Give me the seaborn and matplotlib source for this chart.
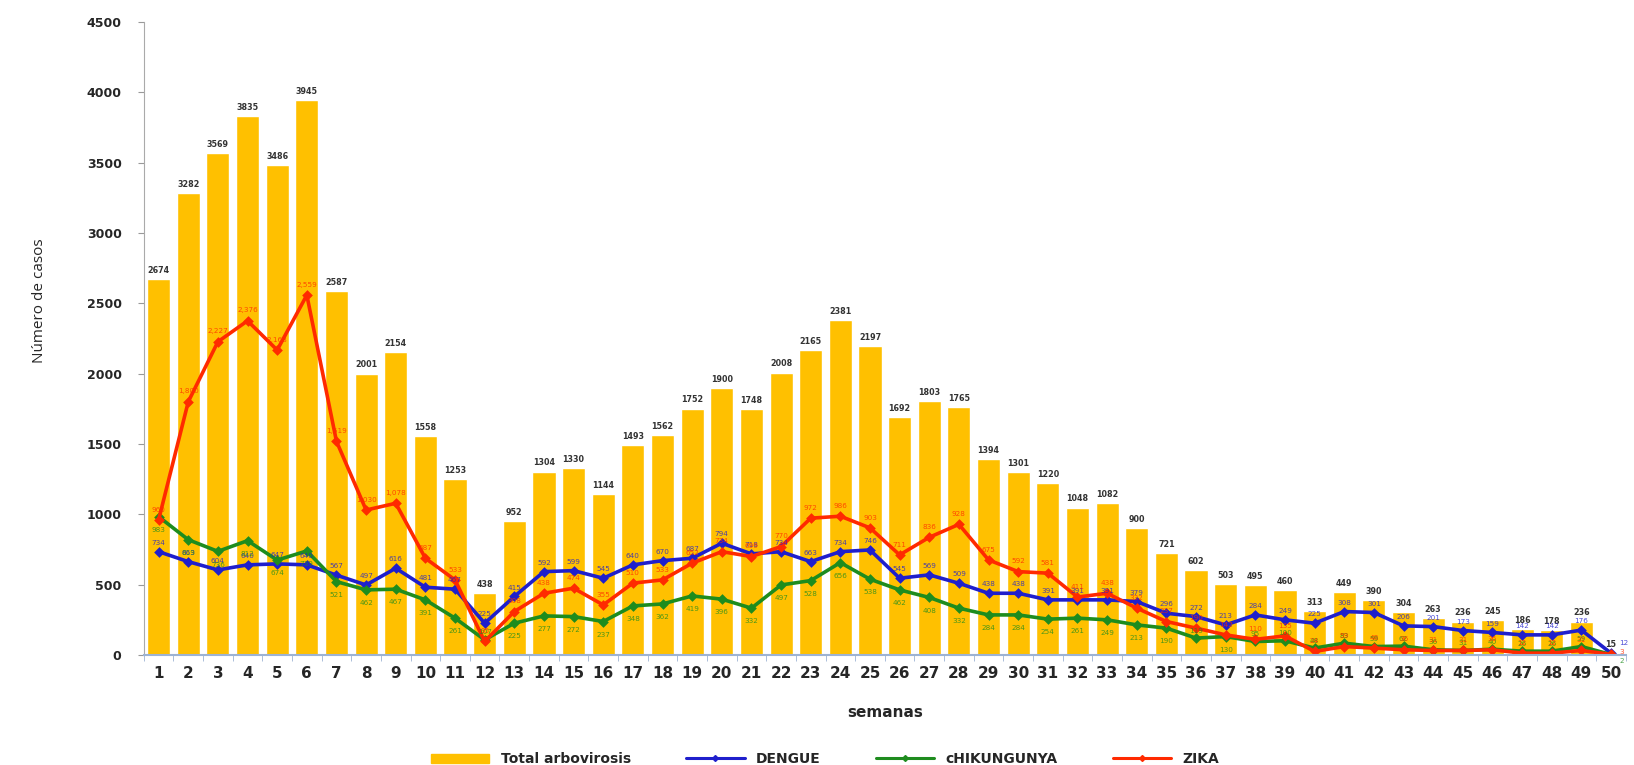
import numpy as np
import pandas as pd
import seaborn as sns
import matplotlib
matplotlib.use('Agg')
import matplotlib.pyplot as plt
from matplotlib.lines import Line2D
from matplotlib.patches import Patch

# Weekly cases
semanas = [str(i) for i in range(1, 51)]
total = [2674, 3282, 3569, 3835, 3486, 3945, 2587, 2001, 2154, 1558,
         1253, 438, 952, 1304, 1330, 1144, 1493, 1562, 1752, 1900,
         1748, 2008, 2165, 2381, 2197, 1692, 1803, 1765, 1394, 1301,
         1220, 1048, 1082, 900, 721, 602, 503, 495, 460, 313,
         449, 390, 304, 263, 236, 245, 186, 178, 236, 15]
dengue = [734, 663, 604, 640, 647, 640, 567, 497, 616, 481,
          467, 225, 415, 592, 599, 545, 640, 670, 687, 794,
          718, 734, 663, 734, 746, 545, 569, 509, 438, 438,
          391, 391, 391, 379, 296, 272, 213, 284, 249, 225,
          308, 301, 206, 201, 173, 159, 142, 142, 176, 12]
chikungunya = [983, 819, 736, 812, 674, 739, 521, 462, 467, 391,
               261, 107, 225, 277, 272, 237, 348, 362, 419, 396,
               332, 497, 528, 656, 538, 462, 408, 332, 284, 284,
               254, 261, 249, 213, 190, 119, 130, 95, 100, 48,
               83, 59, 62, 36, 31, 40, 26, 26, 59, 2]
zika = [960, 1800, 2227, 2376, 2168, 2559, 1519, 1030, 1078, 687,
        533, 95, 308, 438, 474, 355, 510, 533, 652, 734,
        699, 770, 972, 986, 903, 711, 836, 928, 675, 592,
        581, 411, 438, 332, 237, 190, 142, 110, 135, 24,
        59, 48, 36, 31, 31, 36, 12, 12, 31, 3]

bar_color = "#FFC000"
line_colors = {"DENGUE": "#1F1FCC", "cHIKUNGUNYA": "#1E8C1E", "ZIKA": "#FF2A00"}
label_offsets = {"DENGUE": 5, "cHIKUNGUNYA": -11, "ZIKA": 6}

df_total = pd.DataFrame({"semana": semanas, "casos": total})
df_lines = pd.concat([
    pd.DataFrame({"semana": semanas, "casos": dengue, "serie": "DENGUE"}),
    pd.DataFrame({"semana": semanas, "casos": chikungunya, "serie": "cHIKUNGUNYA"}),
    pd.DataFrame({"semana": semanas, "casos": zika, "serie": "ZIKA"}),
])

sns.set_style("white")
plt.rcParams['font.family'] = ['DejaVu Sans']

fig = plt.figure(figsize=(16.34, 7.65), dpi=100)
ax = fig.add_axes([0.088, 0.144, 0.907, 0.827])

sns.barplot(data=df_total, x="semana", y="casos", color=bar_color, errorbar=None,
            width=0.78, saturation=1, ax=ax, legend=False)
ax.bar_label(ax.containers[0], fontsize=5.8, fontweight="bold", color="#333333", padding=3)

n_before = len(ax.lines)
sns.pointplot(data=df_lines, x="semana", y="casos", hue="serie",
              palette=line_colors, markers="D", markersize=3.5, linewidth=2.6,
              dodge=False, errorbar=None, ax=ax, legend=False)

# Data labels on the lines
series_lines = [l for l in ax.lines[n_before:] if len(l.get_xdata()) == len(semanas)]
for line, name in zip(series_lines, line_colors):
    c = line.get_color()
    pts = line.get_xydata()
    for k, (x, y) in enumerate(pts):
        if not np.isfinite(y):
            continue
        dx, dy, ha = 0, label_offsets[name], "center"
        if name == "cHIKUNGUNYA" and y < 130:
            dy = 4
        if k == len(pts) - 1:
            # last week: labels pushed to the right of the point
            dx, ha = 6, "left"
            dy = {"DENGUE": 6, "cHIKUNGUNYA": -6, "ZIKA": 0}[name]
        ax.annotate(f"{int(round(y)):,}", (x, y), xytext=(dx, dy), textcoords="offset points",
                    ha=ha, fontsize=5.2, color=c, alpha=0.8)

ax.set_ylim(0, 4500)
ax.set_xlim(-0.5, 49.5)
ax.set_yticks(range(0, 4501, 500))
ax.tick_params(axis="y", labelsize=9, length=4, color="#999999", left=True, pad=12)
for t in ax.get_yticklabels():
    t.set_fontweight("bold")
ax.tick_params(axis="x", labelsize=11, length=0, pad=8)
for t in ax.get_xticklabels():
    t.set_fontweight("bold")
ax.set_xticks(np.arange(-0.5, 50, 1), minor=True)
ax.tick_params(axis="x", which="minor", length=4, color="#9DB3D3", bottom=True)

for side in ["top", "right"]:
    ax.spines[side].set_visible(False)
ax.spines["left"].set_color("#AAAAAA")
ax.spines["bottom"].set_color("#9DB3D3")
ax.spines["bottom"].set_linewidth(1.5)

ax.set_xlabel("semanas", fontsize=11, fontweight="bold", labelpad=17)
ax.set_ylabel("Número de casos", fontsize=11, family="Open Sans")
ax.yaxis.set_label_coords(-0.065, 0.56)

handles = [Patch(color=bar_color, label="Total arbovirosis")]
for name, c in line_colors.items():
    handles.append(Line2D([0], [0], color=c, lw=2.2, marker="D", markersize=3, label=name))
fig.legend(handles=handles, loc="lower center", bbox_to_anchor=(0.505, -0.018), ncol=4,
           frameon=False, prop={"weight": "bold", "size": 10}, columnspacing=4,
           handlelength=4.2)

fig.savefig("out.png", dpi=100)
